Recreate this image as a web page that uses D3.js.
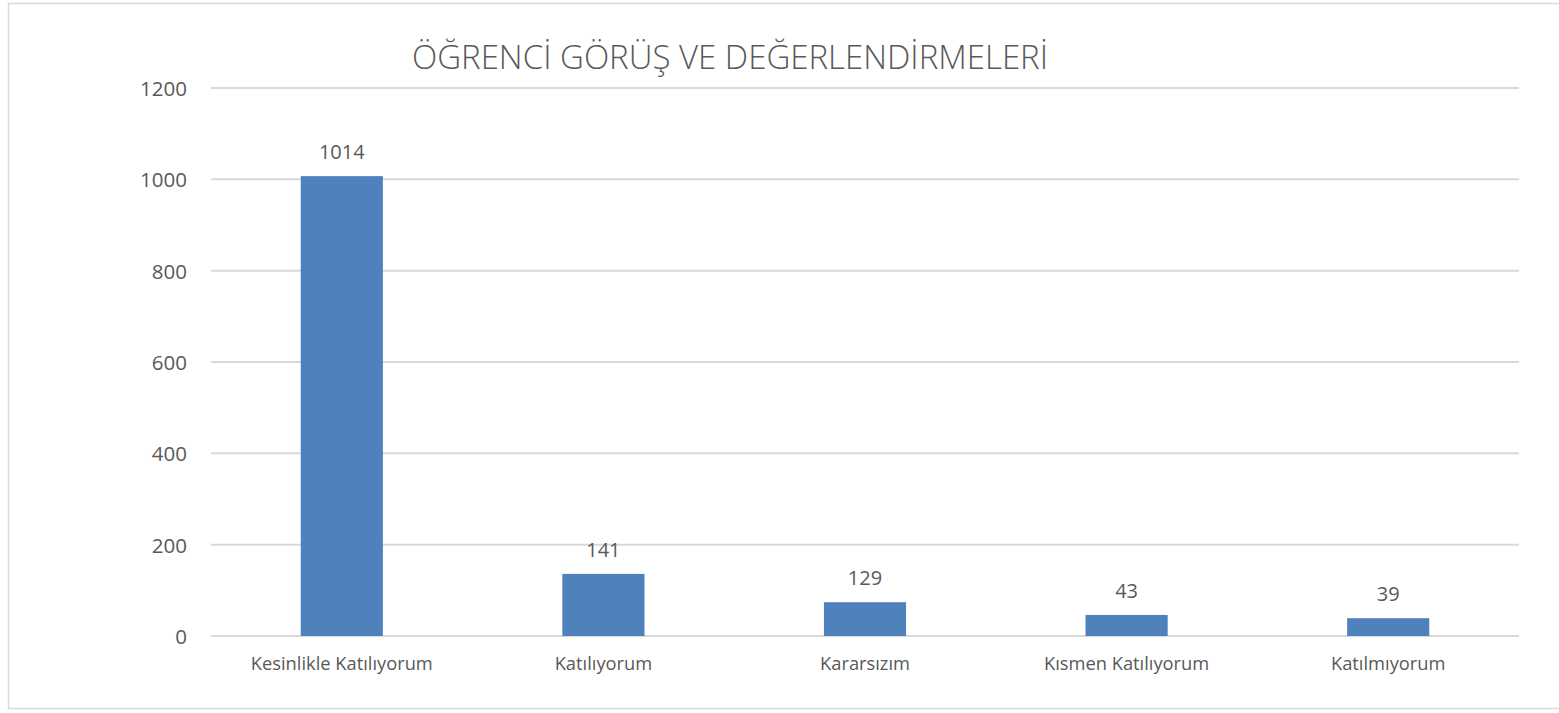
<!DOCTYPE html>
<html>
<head>
<meta charset="utf-8">
<script src="https://cdn.jsdelivr.net/npm/d3@7"></script>
<style>
  html, body { margin: 0; padding: 0; background: #fff; }
  svg text { font-family: "Open Sans", sans-serif; fill: #595959; }
</style>
</head>
<body>
<div id="chart"></div>
<script>
/* Öğrenci görüş ve değerlendirmeleri — column chart */

const categories = ['Kesinlikle Katılıyorum', 'Katılıyorum', 'Kararsızım', 'Kısmen Katılıyorum', 'Katılmıyorum'];
// bar heights as drawn in the picture
const values = [1007, 136, 74, 46, 39];
// data labels as printed above the bars
const labels = ['1014', '141', '129', '43', '39'];
const yTicks = [0, 200, 400, 600, 800, 1000, 1200];
const title = 'ÖĞRENCİ GÖRÜŞ VE DEĞERLENDİRMELERİ';

const width = 1559;
const height = 713;
const margin = { top: 88, right: 40, bottom: 77, left: 211 };

const svg = d3.select('#chart')
  .append('svg')
  .attr('width', width)
  .attr('height', height);

// chart border
svg.append('rect')
  .attr('x', 8.5)
  .attr('y', 3.5)
  .attr('width', width + 10)
  .attr('height', 705)
  .attr('fill', 'none')
  .attr('stroke', '#d9d9d9')
  .attr('stroke-width', 1.5);

const x = d3.scaleBand()
  .domain(categories)
  .range([margin.left, width - margin.right])
  .paddingInner(0.686)
  .paddingOuter(0.343);

const y = d3.scaleLinear()
  .domain([0, 1200])
  .range([height - margin.bottom, margin.top]);

// gridlines
svg.append('g')
  .selectAll('line')
  .data(yTicks)
  .join('line')
  .attr('x1', margin.left)
  .attr('x2', width - margin.right)
  .attr('y1', d => y(d))
  .attr('y2', d => y(d))
  .attr('stroke', '#d9d9d9')
  .attr('stroke-width', 2);

// y axis labels
const yAxis = svg.append('g')
  .attr('transform', `translate(${margin.left - 24},0)`)
  .call(d3.axisLeft(y).tickValues(yTicks).tickFormat(d3.format('d')).tickSize(0).tickPadding(0));
yAxis.select('.domain').remove();
yAxis.selectAll('text')
  .attr('font-family', '"Open Sans", sans-serif')
  .attr('font-size', 20.5)
  .attr('fill', '#595959')
  .attr('dy', '0.36em');

// bars
svg.append('g')
  .selectAll('rect')
  .data(values)
  .join('rect')
  .attr('x', (d, i) => x(categories[i]))
  .attr('y', d => y(d))
  .attr('width', x.bandwidth())
  .attr('height', d => y(0) - y(d))
  .attr('fill', '#4f81bd');

// data labels
svg.append('g')
  .selectAll('text')
  .data(values)
  .join('text')
  .attr('x', (d, i) => x(categories[i]) + x.bandwidth() / 2)
  .attr('y', d => y(d) - 17)
  .attr('text-anchor', 'middle')
  .attr('font-size', 20)
  .text((d, i) => labels[i]);

// category labels
const xAxis = svg.append('g')
  .attr('transform', `translate(0,${y(0)})`)
  .call(d3.axisBottom(x).tickSize(0).tickPadding(0));
xAxis.select('.domain').remove();
xAxis.selectAll('text')
  .attr('font-family', '"Open Sans", sans-serif')
  .attr('font-size', 18.3)
  .attr('fill', '#595959')
  .attr('dy', null)
  .attr('y', 34);

// title
svg.append('text')
  .attr('x', 730)
  .attr('y', 69)
  .attr('text-anchor', 'middle')
  .attr('font-size', 33)
  .attr('font-weight', 300)
  .text(title);
</script>
</body>
</html>
